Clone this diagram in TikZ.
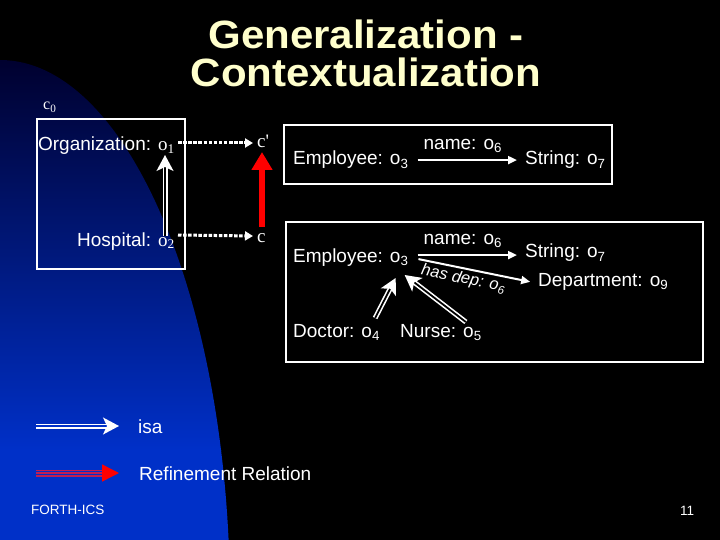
\documentclass[tikz,border=0pt]{standalone}
\usepackage{fontspec}
\setmainfont{Liberation Sans}
\newfontfamily\serifo{Liberation Serif}
\usetikzlibrary{arrows.meta,calc}
\definecolor{bgblue}{RGB}{0,48,200}
\definecolor{bgtop}{RGB}{0,0,45}
\definecolor{titlecol}{RGB}{255,255,204}
\definecolor{refpurple}{RGB}{190,30,85}
\definecolor{refred}{RGB}{255,0,0}
\begin{document}
\begin{tikzpicture}[x=1pt,y=-1pt,
  txt/.style={text=white,font=\fontsize{19}{22}\selectfont,inner sep=0pt,anchor=base west},
  sertxt/.style={txt,font=\serifo\fontsize{19}{22}\selectfont},
  titletxt/.style={text=titlecol,font=\fontsize{42}{44}\selectfont\bfseries,inner sep=0pt,anchor=base},
  smalltxt/.style={txt,font=\fontsize{13.5}{15}\selectfont},
  lbl/.style={text=white,font=\fontsize{19}{22}\selectfont,inner sep=0pt},
  boxst/.style={draw=white,line width=2pt,inner sep=0pt},
  dotarr/.style={white,line width=3pt,dash pattern=on 3.5pt off 1.6pt,-{Triangle[length=8pt,width=9pt]}},
  attr/.style={white,line width=2pt,-{Triangle[length=9pt,width=8pt]}},
  isaarr/.style={draw=white,line width=1.6pt,double=black,double distance=1.8pt,-{Stealth[length=16pt,width=17pt,inset=4pt]}},
  refarr/.style={refred,line width=6.5pt,-{Triangle[length=18pt,width=20pt]}},
  refline/.style={refpurple,line width=1.4pt}
]
% background
\fill[black] (0,0) rectangle (720,540);
\useasboundingbox (0,0) rectangle (720,540);
\begin{scope}
  \clip (0,600) ellipse [x radius=230, y radius=540];
  \shade[top color=bgtop, bottom color=bgblue] (0,55) rectangle (240,450);
  \fill[bgblue] (0,449) rectangle (240,541);
\end{scope}

% title
\node[titletxt] (t1) at (366,49) {\scalebox{1}[0.94]{Generalization -}};
\node[titletxt] (t2) at (366,87) {\scalebox{1}[0.94]{Contextualization}};

% context c0
\node[boxst, minimum width=148pt, minimum height=150pt] (c0box) at (111,194) {};
\node[txt, font=\serifo\fontsize{16}{18}\selectfont] (c0) at (43,110) {c\textsubscript{0}};
\node[txt, anchor=base east] (org) at (175,151) {Organization: {\serifo o\textsubscript{1}}};
\node[txt, anchor=base east] (hosp) at (175,246) {Hospital: {\serifo o\textsubscript{2}}};
\draw[isaarr] ($(hosp.base east)+(-10,-10)$) -- ($(org.base east)+(-10,4)$);

% contexts c' and c
\node[sertxt] (cp) at (257,148) {c'};
\node[sertxt] (c) at (257,243) {c};
\draw[dotarr] ($(org.base east)+(3,-8)$) -- ($(cp.base west)+(-4,-5)$);
\draw[dotarr] ($(hosp.base east)+(3,-11)$) -- ($(c.base west)+(-4,-7)$);
\draw[refarr] ($(c.base west)+(5,-16)$) -- ($(cp.base west)+(5,4)$);

% top box
\node[boxst, minimum width=328pt, minimum height=59pt] (box1) at (448,154.5) {};
\node[txt] (emp1) at (293,165) {Employee: o\textsubscript{3}};
\node[txt] (str1) at (525,165) {String: o\textsubscript{7}};
\draw[attr, shorten <=9pt, shorten >=8pt] (emp1.east) -- node[lbl, above=6pt, xshift=-4pt] (nm1) {name: o\textsubscript{6}} (str1.west);

% bottom box
\node[boxst, minimum width=417pt, minimum height=140pt] (box2) at (494.5,292) {};
\node[txt] (emp2) at (293,262) {Employee: o\textsubscript{3}};
\node[txt] (str2) at (525,258) {String: o\textsubscript{7}};
\node[txt] (dept) at (538,286) {Department: o\textsubscript{9}};
\node[txt] (doc) at (293,337) {Doctor: o\textsubscript{4}};
\node[txt] (nurse) at (400,337) {Nurse: o\textsubscript{5}};
\draw[attr, shorten <=9pt, shorten >=8pt] ($(emp2.east)+(0,-2)$) -- node[lbl, above=6pt, xshift=-4pt] (nm2) {name: o\textsubscript{6}} ($(emp2.east -| str2.west)+(0,-2)$);
\draw[attr, shorten <=10pt, shorten >=8pt] (emp2.east) -- node[lbl, font=\itshape\fontsize{16.5}{19}\selectfont, sloped, below=2pt, pos=0.44] (hd) {has dep: o\textsubscript{6}} ($(dept.west)+(0,2)$);
\draw[isaarr] ($(doc.base east)+(-5,-19)$) -- ($(emp2.base east)+(-13,16)$);
\draw[isaarr] ($(nurse.base east)+(-16,-15)$) -- ($(emp2.base east)+(-4,13)$);

% legend
\coordinate (isaS) at (36,426);
\node[txt] (isatxt) at (138,433) {isa};
\draw[isaarr, double=bgblue, shorten >=19pt] (isaS) -- (isaS -| isatxt.west);
\coordinate (refS) at (36,473);
\node[txt] (reftxt) at (139,480) {Refinement Relation};
\draw[refline] ($(refS)+(0,-2.8)$) -- ($(refS -| reftxt.west)+(-33,-2.8)$);
\draw[refline] ($(refS)+(0,2.8)$) -- ($(refS -| reftxt.west)+(-33,2.8)$);
\draw[refline, -{Triangle[length=17pt,width=17pt,color=refred]}] (refS) -- ($(refS -| reftxt.west)+(-20,0)$);

% footer
\node[smalltxt] (forth) at (31,514) {FORTH-ICS};
\node[smalltxt] (pg) at (680,515) {11};
\end{tikzpicture}
\end{document}
